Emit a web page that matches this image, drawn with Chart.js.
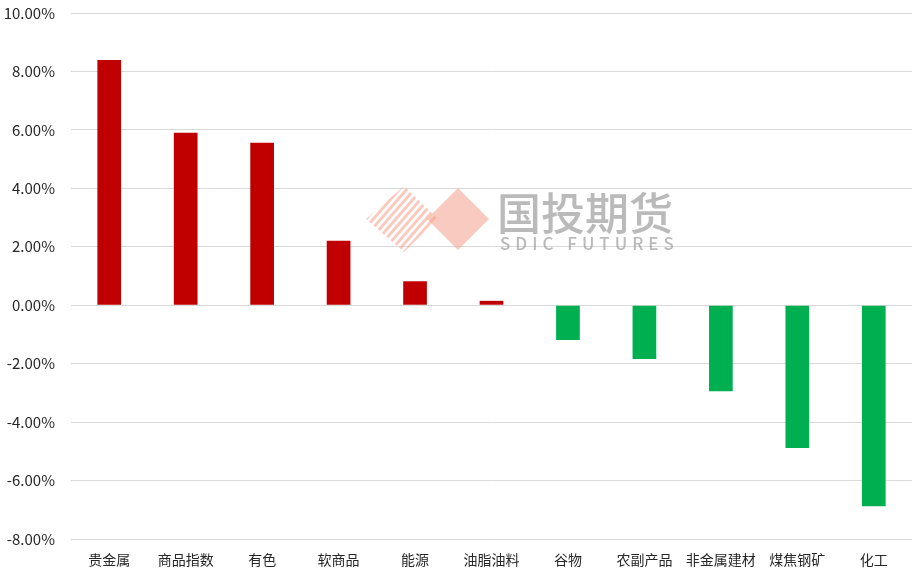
<!DOCTYPE html>
<html>
<head>
<meta charset="utf-8">
<script src="https://cdn.jsdelivr.net/npm/chart.js@4"></script>
<style>
  html, body { margin: 0; padding: 0; background: #fff; }
  #wrap { width: 922px; height: 582px; position: relative; }
</style>
</head>
<body>
<div id="wrap"><canvas id="chart"></canvas></div>
<script>
  const categories = ['贵金属', '商品指数', '有色', '软商品', '能源', '油脂油料', '谷物', '农副产品', '非金属建材', '煤焦钢矿', '化工'];
  const changes = [8.39, 5.90, 5.56, 2.21, 0.82, 0.15, -1.19, -1.84, -2.94, -4.89, -6.88];
  const yTicks = [-8, -6, -4, -2, 0, 2, 4, 6, 8, 10];

  const UP = '#C00000';
  const DOWN = '#00B050';
  const FONT = "'Noto Sans CJK SC', 'Noto Sans', sans-serif";

  // faint company watermark in the middle of the plot
  const watermark = {
    id: 'watermark',
    beforeDatasetsDraw(chart) {
      const ctx = chart.ctx;
      ctx.save();
      ctx.globalAlpha = 0.55;
      ctx.fillStyle = '#f4a08c';
      ctx.beginPath();
      ctx.moveTo(458, 188);
      ctx.lineTo(489, 219);
      ctx.lineTo(458, 250);
      ctx.lineTo(427, 219);
      ctx.closePath();
      ctx.fill();
      // striped diamond
      ctx.save();
      ctx.beginPath();
      ctx.moveTo(404, 186);
      ctx.lineTo(438, 219);
      ctx.lineTo(404, 252);
      ctx.lineTo(366, 219);
      ctx.closePath();
      ctx.clip();
      ctx.strokeStyle = '#f4a08c';
      ctx.lineWidth = 3;
      for (let i = 0; i < 14; i++) {
        const o = i * 7.5;
        ctx.beginPath();
        ctx.moveTo(330 + o, 260);
        ctx.lineTo(400 + o, 180);
        ctx.stroke();
      }
      ctx.restore();
      ctx.globalAlpha = 0.6;
      ctx.fillStyle = '#8c8c8c';
      ctx.font = "500 44px " + FONT;
      ctx.textBaseline = 'alphabetic';
      ctx.fillText('国投期货', 497, 230);
      ctx.font = "500 17px " + FONT;
      ctx.letterSpacing = '5px';
      ctx.fillText('SDIC FUTURES', 500, 250);
      ctx.restore();
    }
  };

  new Chart(document.getElementById('chart'), {
    type: 'bar',
    data: {
      labels: categories,
      datasets: [{
        data: changes,
        backgroundColor: changes.map((v) => v >= 0 ? UP : DOWN),
        borderWidth: 0,
        barPercentage: 0.31,
        categoryPercentage: 1
      }]
    },
    plugins: [watermark],
    options: {
      responsive: true,
      maintainAspectRatio: false,
      animation: false,
      layout: { padding: { top: 13, right: 10, left: 0, bottom: 0 } },
      plugins: {
        legend: { display: false },
        tooltip: { enabled: false }
      },
      scales: {
        x: {
          grid: { display: false, drawTicks: false },
          border: { display: false },
          ticks: {
            color: '#262626',
            font: { family: FONT, size: 14 },
            padding: 12,
            maxRotation: 0,
            autoSkip: false
          },
          afterFit(scale) { scale.height = 43; }
        },
        y: {
          min: -8,
          max: 10,
          afterBuildTicks(scale) { scale.ticks = yTicks.map((v) => ({ value: v })); },
          grid: { color: '#d9d9d9', lineWidth: 1, drawTicks: false },
          border: { display: false },
          ticks: {
            color: '#262626',
            font: { family: FONT, size: 15 },
            padding: 16,
            callback(value) { return value.toFixed(2) + '%'; }
          },
          afterFit(scale) {
            scale.width = 71;
            scale.paddingTop = 0;
            scale.paddingBottom = 0;
          }
        }
      }
    }
  });
</script>
</body>
</html>
